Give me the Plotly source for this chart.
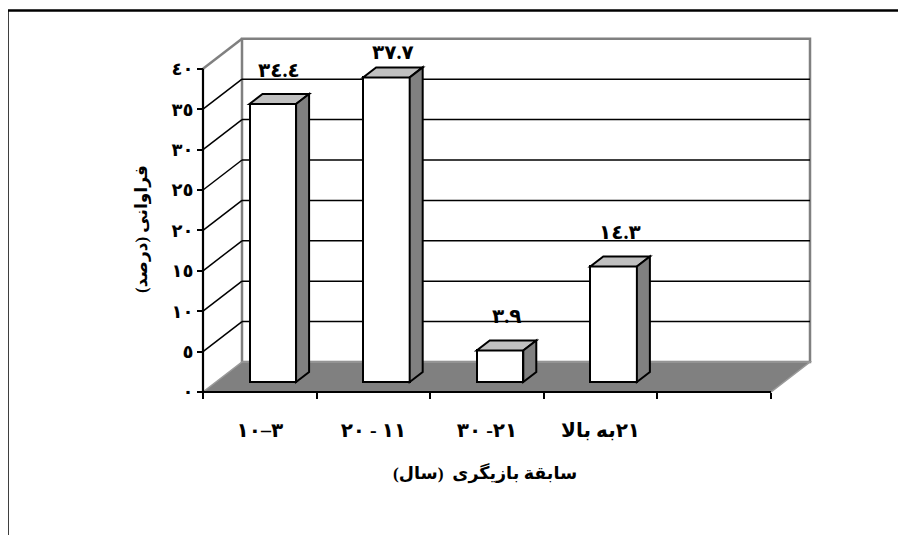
import plotly.graph_objects as go

RLM = "\u200f"

# ---------------- data ----------------
categories = ["٣–١٠", "١١ - ٢٠", "٢١- ٣٠", "٢١به بالا"]
values = [34.4, 37.7, 3.9, 14.3]
value_labels = ["٣٤.٤", "٣٧.٧", "٣.٩", "١٤.٣"]
y_ticks = [0, 5, 10, 15, 20, 25, 30, 35, 40]
y_tick_labels = ["٠", "٥", "١٠", "١٥", "٢٠", "٢٥", "٣٠", "٣٥", "٤٠"]
n_slots = 5
x_title = RLM + "سابقة بازیگری  (سال)" + RLM
y_title = RLM + "فراوانی (درصد)" + RLM

# ---------------- layout geometry ----------------
OFF = 8                      # page body margin
W, H = 906 - OFF, 535 - OFF
ML, MR, MT, MB = 142, 50, 12, 112
PX_CAT = 113.6               # pixels per category slot
PX_UNIT = 8.08               # pixels per value unit
X0_PX, Y0_PX = 203 - OFF, 392 - OFF   # front axis origin (figure px)
DEPTH_PX = (39, 30)          # oblique depth of the 3D box
BAR_W = 0.41
label_shift = [34, 25, 34, 34]

plot_w = W - ML - MR
plot_h = H - MT - MB
xr = [(ML - X0_PX) / PX_CAT, (W - MR - X0_PX) / PX_CAT]
yr = [(Y0_PX - (H - MB)) / PX_UNIT, (Y0_PX - MT) / PX_UNIT]
DX = DEPTH_PX[0] / PX_CAT
DY = DEPTH_PX[1] / PX_UNIT
ymax = y_ticks[-1]


def paper_x(px):
    return (px - OFF - ML) / plot_w


def paper_y(py):
    return (H - MB - (py - OFF)) / plot_h


FONT = "Liberation Serif, DejaVu Sans"
GRAY = "#808080"

shapes = []


def line(x0, y0, x1, y1, color="black", width=1.5, layer="below"):
    shapes.append(dict(type="line", xref="x", yref="y", x0=x0, y0=y0, x1=x1, y1=y1,
                       line=dict(color=color, width=width), layer=layer))


def poly(pts, fill, color="black", width=2, layer="below"):
    d = "M " + " L ".join(f"{x},{y}" for x, y in pts) + " Z"
    shapes.append(dict(type="path", xref="x", yref="y", path=d, fillcolor=fill,
                       line=dict(color=color, width=width), layer=layer))


# side wall and back wall
poly([(0, 0), (DX, DY), (DX, ymax + DY), (0, ymax)], "white", color="white", width=0)
shapes.append(dict(type="rect", xref="x", yref="y", x0=DX, y0=DY, x1=n_slots + DX, y1=ymax + DY,
                   fillcolor="white", line=dict(color=GRAY, width=2.5), layer="below"))
# floor
poly([(0, 0), (n_slots, 0), (n_slots + DX, DY), (DX, DY)], GRAY, color="#9a9a9a", width=1.5)
# gridlines on back wall and side wall
for v in y_ticks[1:-1]:
    line(DX, v + DY, n_slots + DX, v + DY)
    line(0, v, DX, v + DY)
line(0, ymax, DX, ymax + DY, color=GRAY, width=2.5)
# front axes lines
line(0, 0, 0, ymax, width=2.2)
line(0, 0, n_slots, 0, width=2.2)

# bar top and side faces
bar_x = [i + 0.5 + DX / 3 for i in range(len(values))]
base = DY / 3
ddx, ddy = DX / 3, DY / 3
for cx, v in zip(bar_x, values):
    xl, xrr = cx - BAR_W / 2, cx + BAR_W / 2
    top = base + v
    poly([(xl, top), (xrr, top), (xrr + ddx, top + ddy), (xl + ddx, top + ddy)], "#c0c0c0",
         layer="above")
    poly([(xrr, base), (xrr + ddx, base + ddy), (xrr + ddx, top + ddy), (xrr, top)], GRAY,
         layer="above")

fig = go.Figure()
fig.add_trace(go.Bar(
    x=bar_x, y=values, base=[base] * len(values), width=BAR_W,
    marker=dict(color="white", line=dict(color="black", width=2)),
    hoverinfo="skip", showlegend=False,
))

# outer frame (paper coords)
shapes.append(dict(type="rect", xref="paper", yref="paper",
                   x0=paper_x(7.5), x1=1.5, y0=-1.0, y1=paper_y(10.5),
                   line=dict(color="black", width=2.5), fillcolor="rgba(0,0,0,0)", layer="above"))

annotations = []
for cx, v, lab, sh in zip(bar_x, values, value_labels, label_shift):
    annotations.append(dict(x=cx + DX / 6, y=base + v, xref="x", yref="y", text=lab,
                            showarrow=False, yshift=sh,
                            font=dict(family=FONT, size=20, color="black", weight="bold")))
annotations.append(dict(x=paper_x(485), y=paper_y(473), xref="paper", yref="paper",
                        xanchor="center", yanchor="middle",
                        text=x_title, showarrow=False,
                        font=dict(family=FONT, size=17.5, color="black", weight="bold")))
annotations.append(dict(x=paper_x(142), y=paper_y(229), xref="paper", yref="paper",
                        xanchor="center", yanchor="middle",
                        text=y_title, showarrow=False, textangle=-90,
                        font=dict(family=FONT, size=17, color="black", weight="bold")))

fig.update_layout(
    width=W, height=H,
    margin=dict(l=ML, r=MR, t=MT, b=MB, autoexpand=False),
    paper_bgcolor="white", plot_bgcolor="white",
    shapes=shapes, annotations=annotations,
    bargap=0,
    xaxis=dict(range=xr, showgrid=False, zeroline=False, showline=False,
               tickvals=[i + 0.5 for i in range(len(categories))], ticktext=categories,
               ticks="", anchor="free", position=(H - MB - Y0_PX) / plot_h,
               ticklabelstandoff=24,
               tickfont=dict(family=FONT, size=20, color="black", weight="bold"),
               minor=dict(tickvals=list(range(n_slots + 1)), ticks="outside", ticklen=6,
                          tickwidth=2, tickcolor="black")),
    yaxis=dict(range=yr, showgrid=False, zeroline=False, showline=False,
               tickvals=y_ticks, ticktext=y_tick_labels,
               ticks="outside", ticklen=6, tickwidth=2, tickcolor="black",
               anchor="free", position=(X0_PX - ML) / plot_w,
               tickfont=dict(family=FONT, size=18, color="black", weight="bold")),
)

fig.write_html("out.html")
